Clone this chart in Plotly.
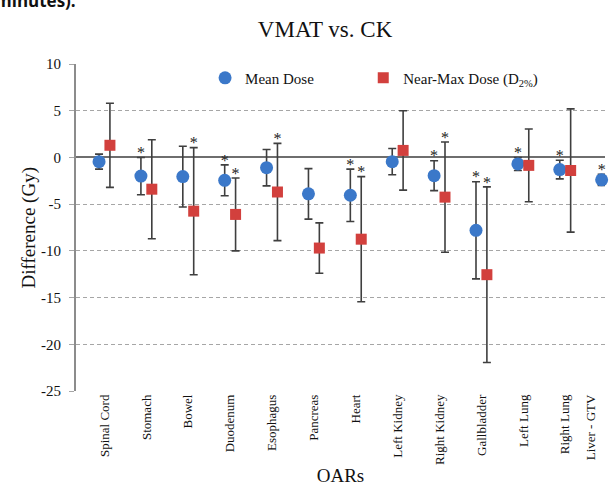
import plotly.graph_objects as go

categories = ["Spinal Cord", "Stomach", "Bowel", "Duodenum", "Esophagus", "Pancreas",
              "Heart", "Left Kidney", "Right Kidney", "Gallbladder", "Left Lung",
              "Right Lung", "Liver - GTV"]
mean_dose = [-0.45, -2.0, -2.05, -2.45, -1.1, -3.9, -4.05, -0.45, -1.95, -7.8, -0.7, -1.3, -2.4]
mean_err = [0.8, 2.0, 3.25, 1.65, 1.95, 2.7, 2.8, 1.4, 1.6, 5.2, 0.7, 1.0, 0.6]
mean_sig = [False, True, False, True, False, False, True, False, True, True, True, True, True]
nearmax_dose = [1.3, -3.4, -5.75, -6.1, -3.7, -9.7, -8.75, 0.75, -4.25, -12.55, -0.85, -1.4, None]
nearmax_err = [4.5, 5.3, 6.8, 3.9, 5.2, 2.7, 6.7, 4.25, 5.9, 9.4, 3.9, 6.6, None]
nearmax_sig = [False, False, True, True, True, False, True, False, True, True, False, False, False]
y_ticks = [10, 5, 0, -5, -10, -15, -20, -25]
y_tick_labels = ["10", "5", "0", "-5", "-10", "-15", "-20", "-25"]

SERIF = "Liberation Serif"
OFF = 0.13
STAR_GAP = 0.35
X_MIN, X_MAX = -0.68, 11.95
ERR_COLOR = "#3f3f3f"
TXT = "#111111"

n = len(categories)
idx = list(range(n))

xm = [i - OFF for i in idx]
nm_idx = [i for i in idx if nearmax_dose[i] is not None]
xn = [i + OFF for i in nm_idx]
yn = [nearmax_dose[i] for i in nm_idx]
en = [nearmax_err[i] for i in nm_idx]

fig = go.Figure()
fig.add_trace(go.Scatter(
    x=xm, y=mean_dose, mode="markers", name="Mean Dose", legend="legend",
    marker=dict(symbol="circle", size=13, color="#3b78c9"),
    error_y=dict(type="data", array=mean_err, visible=True, color=ERR_COLOR,
                 thickness=1.6, width=4),
    cliponaxis=False,
))
fig.add_trace(go.Scatter(
    x=xn, y=yn, mode="markers", name="Near-Max Dose (D<sub>2%</sub>)", legend="legend2",
    marker=dict(symbol="square", size=11, color="#d2403d"),
    error_y=dict(type="data", array=en, visible=True, color=ERR_COLOR,
                 thickness=1.6, width=4),
    cliponaxis=False,
))
# significance stars
star_x, star_y = [], []
for i in idx:
    if mean_sig[i]:
        star_x.append(i - OFF)
        star_y.append(mean_dose[i] + mean_err[i] + STAR_GAP)
    if nearmax_sig[i] and nearmax_dose[i] is not None:
        star_x.append(i + OFF)
        star_y.append(nearmax_dose[i] + nearmax_err[i] + STAR_GAP)
fig.add_trace(go.Scatter(
    x=star_x, y=star_y, mode="text", text=["*"] * len(star_x),
    textposition="middle center", textfont=dict(family=SERIF, size=16, color="#222222"),
    showlegend=False, cliponaxis=False, hoverinfo="skip",
))

label_pos = [min(i, X_MAX - 0.33) for i in idx]

legend_common = dict(orientation="h", xanchor="left", y=0.957, yanchor="middle",
                     bgcolor="rgba(0,0,0,0)", font=dict(family=SERIF, size=15, color=TXT),
                     itemwidth=30)

fig.update_layout(
    width=611, height=486,
    margin=dict(l=76, r=6, t=64, b=95),
    paper_bgcolor="white", plot_bgcolor="white",
    font=dict(family=SERIF, color=TXT),
    title=dict(text="VMAT vs. CK", x=0.532, xanchor="center", y=0.94, yanchor="middle",
               font=dict(family=SERIF, size=23, color=TXT)),
    legend=dict(x=0.244, **legend_common),
    legend2=dict(x=0.543, **legend_common),
    xaxis=dict(range=[X_MIN, X_MAX], tickmode="array", tickvals=label_pos, ticktext=categories,
               tickangle=-90, tickfont=dict(family=SERIF, size=13, color=TXT),
               showgrid=False, zeroline=False, showline=False, ticks="", automargin=False,
               title=dict(text="OARs", font=dict(family=SERIF, size=19, color=TXT), standoff=6)),
    yaxis=dict(range=[-25, 10], tickmode="array", tickvals=y_ticks, ticktext=y_tick_labels,
               automargin=False,
               tickfont=dict(family=SERIF, size=15, color=TXT),
               showgrid=True, gridcolor="#a6a6a6", griddash="4px,3px", gridwidth=1,
               zeroline=True, zerolinecolor="#6e6e6e", zerolinewidth=2,
               showline=True, linecolor="#8c8c8c", linewidth=2,
               ticks="outside", ticklen=5, tickcolor="#a6a6a6", ticklabelstandoff=5),
    showlegend=True,
)

fig.add_annotation(text="Difference (Gy)", xref="paper", yref="paper", x=-0.0907, y=0.5,
                   xanchor="center", yanchor="middle", textangle=-90, showarrow=False,
                   font=dict(family=SERIF, size=19, color=TXT))

fig.add_annotation(text="<b>minutes).</b>", xref="paper", yref="paper", x=-0.157, y=1.152,
                   xanchor="left", yanchor="bottom", showarrow=False,
                   font=dict(family="Open Sans", size=17, color=TXT))

fig.write_html("out.html", config={"displayModeBar": False},
               post_script="document.body.style.margin='0';")
